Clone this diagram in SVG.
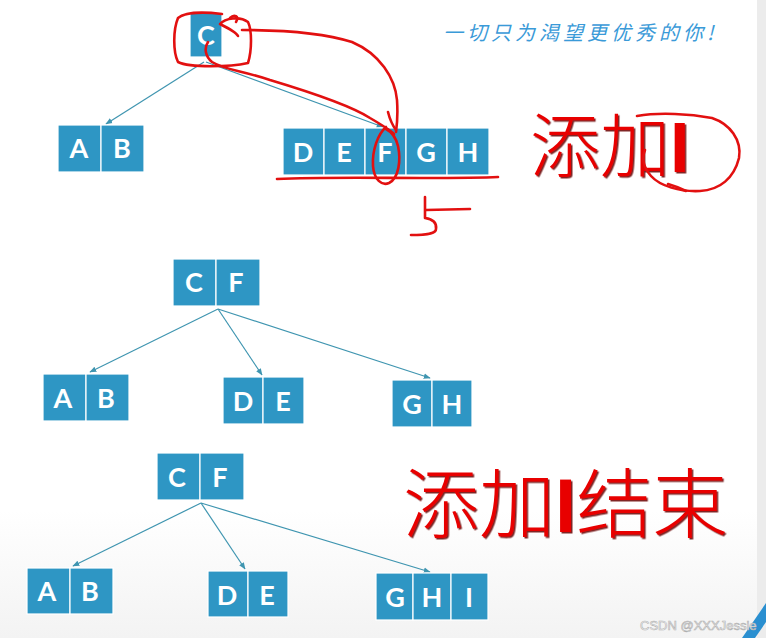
<svg xmlns="http://www.w3.org/2000/svg" width="766" height="638" viewBox="0 0 766 638">
<defs>
<marker id="arr" viewBox="0 0 10 10" refX="9" refY="5" markerWidth="7" markerHeight="7" orient="auto-start-reverse" markerUnits="userSpaceOnUse">
<path d="M0,1 L10,5 L0,9 z" fill="#3f95b0"/>
</marker>
<linearGradient id="bg" x1="0" y1="0" x2="0" y2="1">
<stop offset="0.8" stop-color="#ffffff"/>
<stop offset="1" stop-color="#f3f3f3"/>
</linearGradient>
<filter id="shadow" x="-5%" y="-5%" width="115%" height="115%">
<feDropShadow dx="1.5" dy="1.5" stdDeviation="0.4" flood-color="#6a0000" flood-opacity="0.85"/>
</filter>
</defs>
<style>
.cell{fill:#2e96c4;stroke:#ffffff;stroke-width:1.2}
.lt{fill:#ffffff;font-family:"Lato","Open Sans",sans-serif;font-weight:700;font-size:27px;text-anchor:middle}
.edge{stroke:#3f95b0;stroke-width:1.2;fill:none;marker-end:url(#arr)}
.red{fill:#e80000;font-family:"Noto Sans CJK SC","Noto Sans CJK JP",sans-serif;font-weight:300;filter:url(#shadow)}
.ink{fill:none;stroke:#e21010;stroke-width:2.6;stroke-linecap:round;stroke-linejoin:round}
</style>
<rect width="766" height="638" fill="url(#bg)"/>
<rect x="757" y="0" width="9" height="638" fill="#ececec"/>
<polygon points="742,638 766,603 766,622 755,638" fill="#2a8fd0"/>

<text x="443" y="40" font-family="'Noto Sans CJK SC',sans-serif" font-size="20" font-style="italic" fill="#3a9ad8" letter-spacing="4">一切只为渴望更优秀的你!</text>

<g id="connectors">
<line class="edge" x1="204" y1="62" x2="106" y2="124"/>
<line class="edge" x1="206" y1="62" x2="383" y2="127"/>
<line class="edge" x1="218" y1="309" x2="90" y2="372"/>
<line class="edge" x1="218" y1="309" x2="262" y2="375"/>
<line class="edge" x1="218" y1="309" x2="430" y2="378"/>
<line class="edge" x1="201" y1="503" x2="73" y2="566"/>
<line class="edge" x1="201" y1="503" x2="245" y2="569"/>
<line class="edge" x1="201" y1="503" x2="430" y2="572"/>
</g>

<!-- top tree -->
<g id="top-C">
<rect class="cell" x="190" y="13" width="32" height="44"/>
<text class="lt" x="206" y="45">C</text>
</g>
<g id="top-AB">
<rect class="cell" x="58" y="125" width="43" height="47"/>
<rect class="cell" x="101" y="125" width="43" height="47"/>
<text class="lt" x="79" y="158">A</text>
<text class="lt" x="122" y="158">B</text>
</g>
<g id="top-DEFGH">
<rect class="cell" x="283" y="128" width="41" height="47"/>
<rect class="cell" x="324" y="128" width="41" height="47"/>
<rect class="cell" x="365" y="128" width="41" height="47"/>
<rect class="cell" x="406" y="128" width="41" height="47"/>
<rect class="cell" x="447" y="128" width="42" height="47"/>
<text class="lt" x="303" y="162">D</text>
<text class="lt" x="344" y="162">E</text>
<text class="lt" x="385" y="162">F</text>
<text class="lt" x="426" y="162">G</text>
<text class="lt" x="468" y="162">H</text>
</g>

<!-- middle tree -->
<g id="mid-CF">
<rect class="cell" x="173" y="259" width="43" height="47"/>
<rect class="cell" x="216" y="259" width="44" height="47"/>
<text class="lt" x="194" y="292">C</text>
<text class="lt" x="236" y="292">F</text>
</g>
<g id="mid-AB">
<rect class="cell" x="43" y="374" width="43" height="47"/>
<rect class="cell" x="86" y="374" width="43" height="47"/>
<text class="lt" x="63" y="408">A</text>
<text class="lt" x="106" y="408">B</text>
</g>
<g id="mid-DE">
<rect class="cell" x="223" y="377" width="40" height="47"/>
<rect class="cell" x="263" y="377" width="41" height="47"/>
<text class="lt" x="243" y="411">D</text>
<text class="lt" x="283" y="411">E</text>
</g>
<g id="mid-GH">
<rect class="cell" x="392" y="380" width="40" height="47"/>
<rect class="cell" x="432" y="380" width="40" height="47"/>
<text class="lt" x="412" y="414">G</text>
<text class="lt" x="452" y="414">H</text>
</g>

<!-- bottom tree -->
<g id="bot-CF">
<rect class="cell" x="157" y="453" width="43" height="47"/>
<rect class="cell" x="200" y="453" width="44" height="47"/>
<text class="lt" x="177" y="487">C</text>
<text class="lt" x="220" y="487">F</text>
</g>
<g id="bot-AB">
<rect class="cell" x="27" y="568" width="43" height="46"/>
<rect class="cell" x="70" y="568" width="43" height="46"/>
<text class="lt" x="47" y="601">A</text>
<text class="lt" x="90" y="601">B</text>
</g>
<g id="bot-DE">
<rect class="cell" x="208" y="571" width="40" height="46"/>
<rect class="cell" x="248" y="571" width="40" height="46"/>
<text class="lt" x="227" y="605">D</text>
<text class="lt" x="267" y="605">E</text>
</g>
<g id="bot-GHI">
<rect class="cell" x="376" y="573" width="37" height="47"/>
<rect class="cell" x="413" y="573" width="38" height="47"/>
<rect class="cell" x="451" y="573" width="37" height="47"/>
<text class="lt" x="395" y="607">G</text>
<text class="lt" x="432" y="607">H</text>
<text class="lt" x="469" y="607">I</text>
</g>

<!-- red titles -->
<text class="red" x="530" y="172" font-size="70">添加<tspan font-family="'Liberation Sans',sans-serif" font-weight="700">I</tspan></text>
<text class="red" x="403" y="532" font-size="76">添加<tspan font-family="'Liberation Sans',sans-serif" font-weight="700">I</tspan>结束</text>

<!-- red hand annotations -->
<g id="annotations">
<path class="ink" d="M222,14 C205,12 185,12 178,18 C173,30 173,52 178,62 C190,68 230,67 248,63 C252,50 252,30 248,22 C240,16 225,18 220,24 C228,28 236,32 238,36"/>
<path class="ink" d="M230,18 C234,14 240,16 236,22"/>
<path class="ink" d="M208,42 C204,48 205,56 212,62 C225,70 240,70 270,80 C310,92 350,105 370,118 C382,125 390,130 394,134"/>
<path class="ink" d="M242,30 C280,30 320,32 352,42 C380,54 395,78 397,100 C398,115 397,125 396,132"/>
<path class="ink" d="M388,112 C390,120 393,126 396,130"/>
<path class="ink" d="M386,127 C378,134 372,150 373,166 C374,180 382,186 389,183 C399,178 401,160 398,146 C396,138 392,132 386,129"/>
<path class="ink" d="M277,179 C320,177 380,178 420,178 C450,178 480,178 498,177"/>
<path class="ink" d="M425,197 L425,218 C432,219 437,222 436,229 C436,233 430,235 411,235"/>
<path class="ink" d="M426,210 L470,209"/>
<path class="ink" d="M637,116 C660,112 690,114 712,118 C730,124 742,140 739,158 C734,178 720,190 700,191 C680,192 660,186 651,176 C644,168 641,160 645,150"/>
<path class="ink" d="M668,184 C675,186 680,188 686,191"/>
</g>

<text x="640" y="630" font-family="'Liberation Sans',sans-serif" font-size="13" fill="#ffffff" stroke="#b0b0b0" stroke-width="0.6">CSDN @XXXJessie</text>
</svg>
